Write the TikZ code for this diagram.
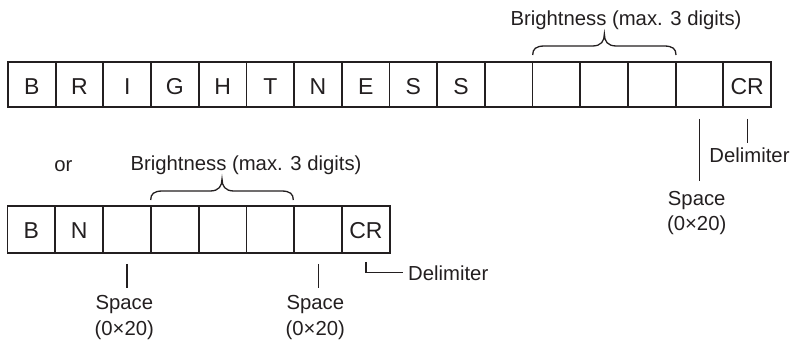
\documentclass[tikz,border=0pt]{standalone}
\usepackage{fontspec}
\setmainfont{Liberation Sans}
\definecolor{ink}{RGB}{35,31,32}
\newcommand\digitbrace[3]{%
  \pgfmathsetmacro\bmid{(#1+#2)/2}%
  \draw[bracestyle] (#1,#3) .. controls (#1,#3-6) and (#1+3,#3-9) .. (#1+12,#3-9)
    -- (\bmid-12,#3-9) .. controls (\bmid-3,#3-9) and (\bmid,#3-14) .. (\bmid,#3-21)
    .. controls (\bmid,#3-14) and (\bmid+3,#3-9) .. (\bmid+12,#3-9)
    -- (#2-12,#3-9) .. controls (#2-3,#3-9) and (#2,#3-6) .. (#2,#3);}
\begin{document}
\begin{tikzpicture}[x=1pt,y=-1pt,
  every node/.style={text=ink,font=\fontsize{20.3}{25.7}\selectfont,inner sep=0pt},
  cellA/.style={draw=ink,line width=1.8pt,minimum width=47.69pt,minimum height=45.6pt,anchor=center,
    font=\fontsize{23}{27}\selectfont,text height=19.6pt,text depth=0pt},
  cellB/.style={draw=ink,line width=1.8pt,minimum width=47.8pt,minimum height=47.3pt,anchor=center,
    font=\fontsize{23}{27}\selectfont,text height=17.2pt,text depth=0pt},
  lead/.style={draw=ink,line width=1.2pt},
  bracestyle/.style={draw=ink,line width=1.3pt}]
\useasboundingbox (0,0) rectangle (796,343);

% top row
\foreach \t [count=\i] in {B,R,I,G,H,T,N,E,S,S,{},{},{},{},{},CR}
  \node[cellA] (t\i) at ({8+(\i-0.5)*47.69},84.5) {\t};

% bottom row
\foreach \t [count=\i] in {B,N,{},{},{},{},{},CR}
  \node[cellB] (b\i) at ({7.5+(\i-0.5)*47.8},229.7) {\t};

% braces and labels
\digitbrace{532.7}{676}{55}
\digitbrace{150.7}{293.3}{200}
\node[anchor=base] (lblT) at (626,25.5) {Brightness (max. 3 digits)};
\node[anchor=base] (lblB) at (246,170) {Brightness (max. 3 digits)};
\node[anchor=base] (orlbl) at (63.3,171.7) {or};

% top leaders
\draw[lead] ([yshift=-10.7pt]t15.south) -- ++(0,62);
\node[anchor=base] (spT1) at (696.7,205) {Space};
\node[anchor=base] (spT2) at (696.7,230.5) {(0×20)};
\draw[lead] ([yshift=-10.7pt]t16.south) -- ++(0,23.7);
\node[anchor=base] (delT) at (749.5,162.5) {Delimiter};

% bottom leaders
\draw[lead] ([yshift=-9.5pt]b3.south) -- ++(0,24);
\node[anchor=base] (spB1) at (124.3,309.3) {Space};
\node[anchor=base] (spB2) at (124.3,335) {(0×20)};
\draw[lead] ([yshift=-9.5pt]b7.south) -- ++(0,24);
\node[anchor=base] (spB3) at (315.3,309.3) {Space};
\node[anchor=base] (spB4) at (315.3,335) {(0×20)};
\node[anchor=base west] (delB) at (408,280.5) {Delimiter};
\draw[lead] ([yshift=-7.5pt]b8.south) |- ([xshift=-5pt]delB.west |- 0,272.3);
\end{tikzpicture}
\end{document}
